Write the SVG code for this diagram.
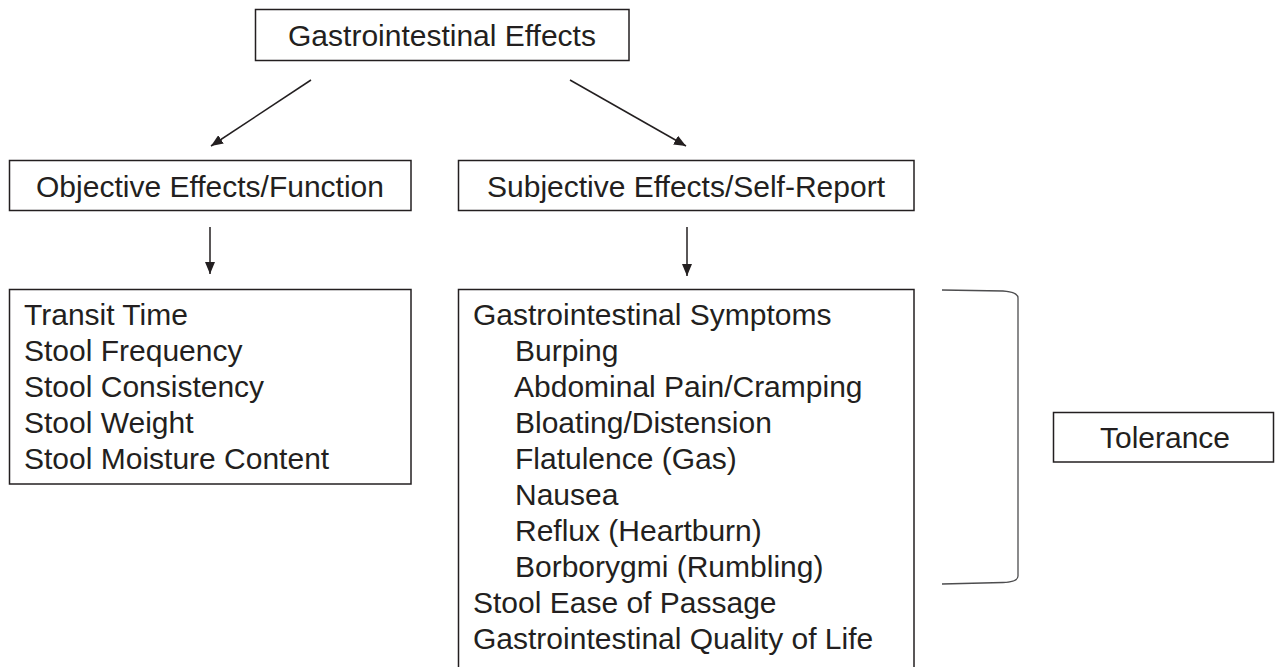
<svg xmlns="http://www.w3.org/2000/svg" width="1275" height="667" viewBox="0 0 1275 667">
<style>
.box{fill:#fff;stroke:#231f20;stroke-width:1.5}
.t{font-family:"Liberation Sans",Arial,sans-serif;font-size:30px;fill:#231f20}
.c{text-anchor:middle}
.line{stroke:#231f20;stroke-width:1.5;fill:none}
.br{stroke:#4d4d4f;stroke-width:1.3;fill:none}
</style>
<defs>
<marker id="ah" viewBox="0 0 12 10" refX="12" refY="5" markerWidth="12" markerHeight="10" markerUnits="userSpaceOnUse" orient="auto">
<path d="M0,0 L12,5 L0,10 z" fill="#231f20"/>
</marker>
</defs>
<rect width="1275" height="667" fill="#fff"/>
<g id="connectors">
<line class="line" x1="311" y1="80" x2="211" y2="146" marker-end="url(#ah)"/>
<line class="line" x1="570" y1="80" x2="686" y2="146" marker-end="url(#ah)"/>
<line class="line" x1="210" y1="227" x2="210" y2="274" marker-end="url(#ah)"/>
<line class="line" x1="687" y1="227" x2="687" y2="276" marker-end="url(#ah)"/>
</g>
<g id="gi-effects">
<rect class="box" x="255.5" y="9.5" width="373.5" height="51"/>
<text class="t c" x="442" y="46">Gastrointestinal Effects</text>
</g>
<g id="objective">
<rect class="box" x="9.5" y="160.5" width="401.5" height="50"/>
<text class="t c" x="210" y="197">Objective Effects/Function</text>
</g>
<g id="subjective">
<rect class="box" x="458.5" y="160.5" width="455.5" height="50"/>
<text class="t c" x="686" y="197">Subjective Effects/Self-Report</text>
</g>
<g id="objective-list">
<rect class="box" x="9.5" y="289.5" width="401.5" height="194.5"/>
<text class="t" x="24" y="325">Transit Time</text>
<text class="t" x="24" y="361">Stool Frequency</text>
<text class="t" x="24" y="397">Stool Consistency</text>
<text class="t" x="24" y="433">Stool Weight</text>
<text class="t" x="24" y="469">Stool Moisture Content</text>
</g>
<g id="subjective-list">
<rect class="box" x="458.5" y="289.5" width="455.5" height="400"/>
<text class="t" x="473" y="325">Gastrointestinal Symptoms</text>
<text class="t" x="515" y="361">Burping</text>
<text class="t" x="514" y="397">Abdominal Pain/Cramping</text>
<text class="t" x="515" y="433">Bloating/Distension</text>
<text class="t" x="515" y="469">Flatulence (Gas)</text>
<text class="t" x="515" y="505">Nausea</text>
<text class="t" x="515" y="541">Reflux (Heartburn)</text>
<text class="t" x="515" y="577">Borborygmi (Rumbling)</text>
<text class="t" x="473" y="613">Stool Ease of Passage</text>
<text class="t" x="473" y="649">Gastrointestinal Quality of Life</text>
</g>
<g id="bracket">
<path class="br" d="M942,290 L1003,291 Q1018,292 1018,298 L1018,576 Q1018,582 1003,582.5 L942,584"/>
</g>
<g id="tolerance">
<rect class="box" x="1053.5" y="412.5" width="220" height="49.5"/>
<text class="t c" x="1165" y="448">Tolerance</text>
</g>
</svg>
